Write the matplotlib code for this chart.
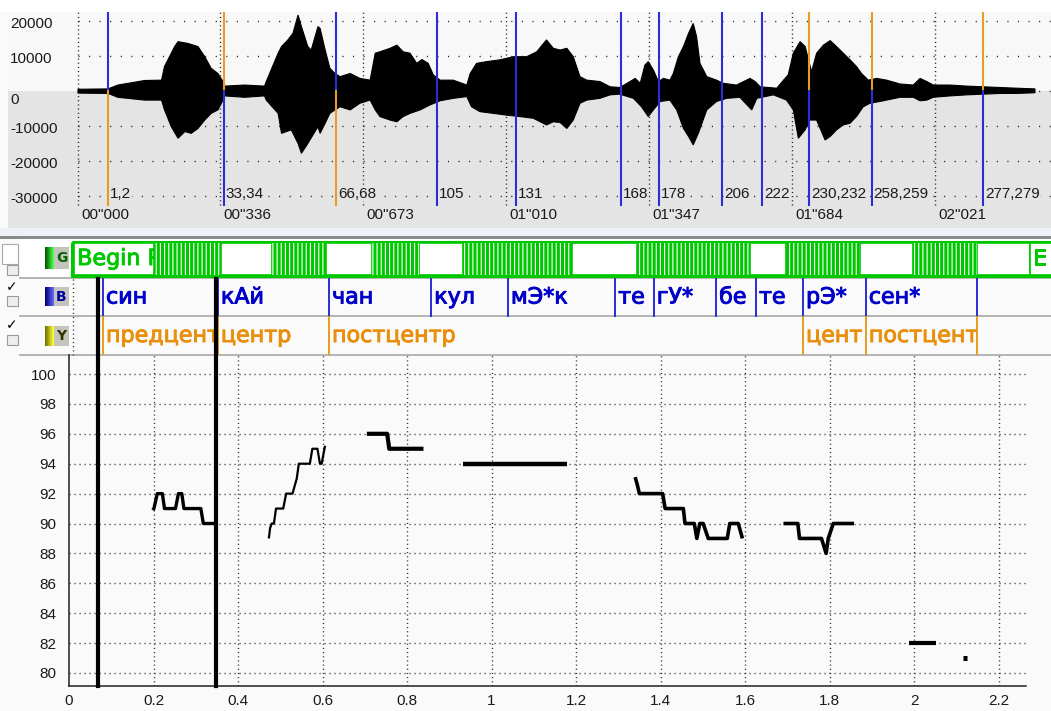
import matplotlib
matplotlib.use("Agg")
import matplotlib.pyplot as plt
import matplotlib.patheffects as pe
import numpy as np
from matplotlib.patches import Rectangle
from matplotlib.transforms import Bbox, TransformedBbox, blended_transform_factory

W, H = 1051, 711

# ---------------- waveform: envelope (seconds, amplitude) ----------------
wave_top = [
    (0.000, 500), (0.071, 600), (0.094, 1700), (0.157, 3000), (0.197, 3100), (0.204, 7000),
    (0.212, 8900), (0.228, 12700), (0.236, 14100), (0.259, 13600), (0.283, 12700), (0.299, 9800),
    (0.314, 6500), (0.330, 5000), (0.342, 2700), (0.346, 1400), (0.393, 1700), (0.440, 1400),
    (0.444, 2700), (0.472, 10800), (0.480, 12700), (0.495, 14600), (0.507, 16500), (0.519, 21700),
    (0.527, 18400), (0.542, 12700), (0.550, 11700), (0.566, 18400), (0.571, 17900), (0.583, 11700),
    (0.594, 6500), (0.606, 5000), (0.618, 4100), (0.642, 5000), (0.665, 3600), (0.689, 3100),
    (0.701, 10800), (0.712, 11200), (0.736, 12200), (0.752, 13100), (0.767, 11200), (0.783, 10800),
    (0.799, 7900), (0.811, 9000), (0.826, 7900), (0.838, 4600), (0.854, 3100), (0.885, 3100),
    (0.917, 1700), (0.925, 5000), (0.940, 7900), (0.964, 8400), (0.995, 8900), (1.027, 9800),
    (1.058, 9800), (1.082, 11200), (1.098, 13600), (1.105, 14600), (1.121, 12200), (1.137, 11700),
    (1.153, 12200), (1.168, 9800), (1.184, 4100), (1.200, 3100), (1.231, 2700), (1.255, 1200),
    (1.278, 1000), (1.302, 2700), (1.314, 3600), (1.326, 2200), (1.337, 7400), (1.345, 8400),
    (1.357, 6000), (1.369, 2700), (1.381, 3600), (1.396, 3100), (1.404, 5000), (1.416, 9800),
    (1.428, 12700), (1.440, 16500), (1.451, 19300), (1.459, 15500), (1.467, 7900), (1.483, 4100),
    (1.506, 3100), (1.522, 2200), (1.553, 1700), (1.585, 3600), (1.597, 2700), (1.609, 1200),
    (1.648, 800), (1.664, 3100), (1.675, 4600), (1.687, 10800), (1.703, 14100), (1.715, 12700),
    (1.723, 8900), (1.730, 5500), (1.742, 10800), (1.758, 13100), (1.774, 14400), (1.789, 12700),
    (1.805, 10800), (1.821, 8900), (1.836, 7000), (1.848, 5000), (1.864, 3100), (1.884, 3600),
    (1.907, 3100), (1.939, 2000), (1.970, 1700), (1.986, 3600), (2.002, 2700), (2.017, 1700),
    (2.057, 1700), (2.096, 1400), (2.135, 1200), (2.174, 1000), (2.214, 800), (2.257, 600),
]
wave_bot = [
    (0.000, -600), (0.071, -700), (0.094, -1800), (0.157, -2600), (0.197, -2600), (0.204, -5400),
    (0.220, -10200), (0.236, -13500), (0.252, -11600), (0.267, -12100), (0.283, -10700), (0.299, -8300),
    (0.314, -6400), (0.330, -5400), (0.342, -2600), (0.346, -1400), (0.393, -1800), (0.440, -1400),
    (0.444, -2600), (0.472, -6400), (0.480, -12100), (0.503, -11100), (0.519, -15000), (0.527, -17800),
    (0.542, -15000), (0.566, -10200), (0.571, -12100), (0.583, -9200), (0.594, -6400), (0.606, -5400),
    (0.618, -4500), (0.642, -5400), (0.665, -3500), (0.689, -2600), (0.701, -5400), (0.712, -7300),
    (0.736, -8300), (0.752, -8800), (0.767, -7300), (0.783, -6400), (0.807, -5400), (0.830, -4000),
    (0.854, -2800), (0.885, -2100), (0.917, -1600), (0.928, -4500), (0.948, -5900), (0.980, -6400),
    (1.011, -6900), (1.042, -7300), (1.074, -7800), (1.105, -9700), (1.121, -8800), (1.137, -9000),
    (1.153, -10700), (1.168, -8300), (1.184, -3500), (1.200, -2600), (1.231, -2100), (1.255, -1100),
    (1.278, -900), (1.310, -2100), (1.329, -4500), (1.345, -7300), (1.357, -5400), (1.373, -3000),
    (1.396, -2600), (1.412, -5400), (1.428, -10700), (1.440, -13000), (1.451, -15400), (1.463, -12100),
    (1.483, -5400), (1.506, -3000), (1.530, -2100), (1.561, -1800), (1.589, -5400), (1.601, -2100),
    (1.640, -1100), (1.671, -2600), (1.687, -5400), (1.699, -13500), (1.715, -11100), (1.726, -8300),
    (1.742, -8300), (1.762, -14000), (1.774, -13000), (1.789, -11100), (1.805, -9700), (1.821, -9200),
    (1.836, -7300), (1.852, -4500), (1.868, -3500), (1.891, -3000), (1.915, -2400), (1.939, -1800),
    (1.970, -1800), (1.986, -2800), (2.002, -2600), (2.017, -1800), (2.057, -1400), (2.096, -1100),
    (2.135, -900), (2.174, -700), (2.214, -700), (2.257, -500),
]

time_ticks = [0.0, 0.336, 0.673, 1.010, 1.347, 1.684, 2.021]
time_labels = ['00"000', '00"336', '00"673', '01"010', '01"347', '01"684', '02"021']
amp_ticks = [20000, 10000, 0, -10000, -20000, -30000]

# segment marks on the waveform
mark_t = [0.071, 0.344, 0.608, 0.846, 1.032, 1.281, 1.371, 1.519, 1.613, 1.724, 1.872, 2.134]
mark_lbl = ['1,2', '33,34', '66,68', '105', '131', '168', '178', '206', '222',
            '230,232', '258,259', '277,279']
mark_up = ['b', 'o', 'b', 'b', 'b', 'b', 'b', 'b', 'b', 'o', 'o', 'o']
mark_dn = ['o', 'b', 'o', 'b', 'b', 'b', 'b', 'b', 'b', 'b', 'b', 'b']

# tiers
g_voiced = [(0.179, 0.337), (0.458, 0.585), (0.693, 0.804), (0.908, 1.165),
            (1.318, 1.585), (1.670, 1.844), (1.969, 2.120)]
g_begin, g_end = -0.009, 2.245
b_bounds = [0.059, 0.330, 0.592, 0.833, 1.014, 1.267, 1.358, 1.505, 1.599, 1.710, 1.858, 2.120]
b_labels = ['син', 'кАй', 'чан', 'кул', 'мЭ*к', 'те', 'гУ*', 'бе', 'те', 'рЭ*', 'сен*']
y_bounds = [0.059, 0.330, 0.592, 1.710, 1.858, 2.120]
y_labels = ['предцент', 'центр', 'постцентр', 'цент', 'постцент']

# ---------------- pitch contour (s, semitones) ----------------
seg1_t = [0.198, 0.201, 0.209, 0.221, 0.226, 0.252, 0.259, 0.267, 0.272, 0.312, 0.318, 0.348]
seg1_f = [90.9, 91.0, 92, 92, 91, 91, 92, 92, 91, 91, 90, 90]
seg2_t = [0.473, 0.476, 0.480, 0.485, 0.490, 0.507, 0.514, 0.529, 0.535, 0.539, 0.544,
          0.570, 0.576, 0.588, 0.594, 0.598, 0.606]
seg2_f = [89.0, 89.7, 90, 90, 91, 91, 92, 92, 92.6, 93, 94, 94, 95, 95, 94, 94, 95.2]
seg3_t = [0.705, 0.753, 0.758, 0.839]
seg3_f = [96, 96, 95, 95]
seg4_t = [0.932, 1.179]
seg4_f = [94, 94]
seg5_t = [1.340, 1.345, 1.350, 1.405, 1.411, 1.454, 1.458, 1.480, 1.486, 1.493, 1.501,
          1.513, 1.558, 1.564, 1.584, 1.594]
seg5_f = [93.1, 92.6, 92, 92, 91, 91, 90, 90, 89, 90, 90, 89, 89, 90, 90, 89]
seg6_t = [1.691, 1.725, 1.729, 1.781, 1.792, 1.797, 1.809, 1.858]
seg6_f = [90, 90, 89, 89, 88, 89, 90, 90]
seg7_t = [1.987, 2.052]
seg7_f = [82, 82]
seg8_t = [2.115, 2.126]
seg8_f = [81, 81]
cursor_t = [0.069, 0.348]

segments = [(seg1_t, seg1_f, 2.4), (seg2_t, seg2_f, 1.6), (seg3_t, seg3_f, 3.0),
            (seg4_t, seg4_f, 3.2), (seg5_t, seg5_f, 2.6), (seg6_t, seg6_f, 2.6),
            (seg7_t, seg7_f, 3.0), (seg8_t, seg8_f, 3.6)]

# ---------------- layout ----------------
BLUE = '#2c2cd8'
ORANGE = '#e89c20'
GREEN = '#00c800'
NUMFONT = dict(family='Liberation Sans', fontsize=11, color='#1a1a1a')
TIERFONT = dict(family='DejaVu Sans', fontsize=16)
plt.rcParams['hatch.linewidth'] = 0.8

fig = plt.figure(figsize=(W / 100, H / 100), dpi=100, facecolor='#fafafa')


def px_axes(x0, y0, x1, y1, z):
    return fig.add_axes([x0 / W, 1 - y1 / H, (x1 - x0) / W, (y1 - y0) / H], zorder=z)


# background chrome in pixel units
bg = px_axes(0, 0, W, H, 0)
bg.set_xlim(0, W)
bg.set_ylim(H, 0)
bg.axis('off')
bg.add_patch(Rectangle((0, 0), W, 12, color='white', lw=0))
bg.add_patch(Rectangle((0, 228), W, 8, color='#eef2f8', lw=0))
bg.add_patch(Rectangle((0, 236), W, 2.5, color='#8a8a8a', lw=0))
bg.add_patch(Rectangle((20, 238.5), W, 39, color='white', lw=0))
for yy in (278, 316, 355):
    bg.plot([20, W], [yy, yy], color='#b4b4b4', lw=1.4)
bg.plot([73, 73], [279, 355], color='#333333', lw=1.0, dashes=(0.8, 2.2))

# ---------------- waveform ----------------
PX_S, T0 = 424.0, 78.0
AMP_PX = 10000 / 35.0
axw = px_axes(8, 12, W, 228, 1)
axw.set_xlim((8 - T0) / PX_S, (W - T0) / PX_S)
a_top, a_bot = (91 - 12) * AMP_PX, (91 - 228) * AMP_PX
axw.set_ylim(a_bot, a_top)
axw.axis('off')
axw.axhspan(0, a_top, color='#f8f8f8', lw=0, zorder=0)
axw.axhspan(a_bot, 0, color='#e4e4e4', lw=0, zorder=0)

x_end = (W - T0) / PX_S
for a in amp_ticks:
    axw.plot([0, x_end], [a, a], color='#222222', lw=1.0, dashes=(0.8, 6.8), zorder=1)
line_bot = (91 - 205) * AMP_PX
for t in time_ticks:
    axw.plot([t, t], [line_bot, a_top], color='#222222', lw=1.0, dashes=(0.8, 2.2), zorder=1)

tt = [p[0] for p in wave_top] + [p[0] for p in wave_bot][::-1]
aa = [p[1] for p in wave_top] + [p[1] for p in wave_bot][::-1]
axw.fill(tt, aa, color='black', lw=0.8, zorder=2)

cmap = {'b': BLUE, 'o': ORANGE}
for t, lbl, up, dn in zip(mark_t, mark_lbl, mark_up, mark_dn):
    axw.plot([t, t], [0, a_top], color=cmap[up], lw=1.5, zorder=3)
    axw.plot([t, t], [line_bot, 0], color=cmap[dn], lw=1.5, zorder=3)
    axw.text(t + 2 / PX_S, (91 - 194) * AMP_PX, lbl, va='center', ha='left', zorder=4,
             bbox=dict(fc='#e4e4e4', ec='none', pad=0.3), **NUMFONT)

trw = blended_transform_factory(axw.transAxes, axw.transData)
for a in amp_ticks:
    off = -2600 if a == 0 else -900
    axw.text(2 / (W - 8), a + off, f'{a}', transform=trw, va='center', ha='left', **NUMFONT)
for t, lbl in zip(time_ticks, time_labels):
    axw.text(t + 3 / PX_S, (91 - 215) * AMP_PX, lbl, va='center', ha='left', **NUMFONT)

# ---------------- tiers ----------------
axt = px_axes(0, 228, W, 355, 2)
axt.set_xlim(-T0 / PX_S, (W - T0) / PX_S)
axt.set_ylim(355, 228)
axt.axis('off')


def clipped_text(x0, x1, y0, y1, txt, color, **kw):
    t = axt.text(x0 + 3 / PX_S, (y0 + y1) / 2, txt, va='center', ha='left', color=color,
                 path_effects=[pe.withStroke(linewidth=0.7, foreground=color)], **kw)
    t.set_clip_box(TransformedBbox(Bbox([[x0, y0], [x1, y1]]), axt.transData))
    t.set_clip_on(True)
    return t


# G tier: voiced stretches striped, the rest white
gy0, gy1 = 243, 275
axt.add_patch(Rectangle((g_begin - 2 / PX_S, gy0 - 1), 3, gy1 - gy0 + 2,
                        fc='none', ec=GREEN, lw=2.2))
starts = [v[1] for v in g_voiced]
ends = [v[0] for v in g_voiced[1:]] + [g_end]
for a0, a1 in zip(starts, ends):
    axt.add_patch(Rectangle((a0, gy0), a1 - a0, gy1 - gy0, fc='white', ec=GREEN, lw=1.2))
for v0, v1 in g_voiced:
    axt.add_patch(Rectangle((v0, gy0), v1 - v0, gy1 - gy0, fc=GREEN, ec='white',
                            hatch='||||', lw=0))
axt.add_patch(Rectangle((g_begin, gy0), g_voiced[0][0] - g_begin, gy1 - gy0,
                        fc='white', ec=GREEN, lw=1.2))
axt.add_patch(Rectangle((g_end, gy0), 1, gy1 - gy0, fc='white', ec=GREEN, lw=1.2))
clipped_text(g_begin, g_voiced[0][0], gy0, gy1, 'Begin P', GREEN, **TIERFONT)
clipped_text(g_end, g_end + 1, gy0, gy1, 'E', GREEN, **TIERFONT)

# B tier (syllables)
for x in b_bounds:
    axt.plot([x, x], [279, 316], color=BLUE, lw=1.4)
for x0, x1, lbl in zip(b_bounds[:-1], b_bounds[1:], b_labels):
    clipped_text(x0, x1, 279, 316, lbl, '#0000c8', **TIERFONT)

# Y tier (accent zones)
for x in y_bounds:
    axt.plot([x, x], [317, 355], color=ORANGE, lw=1.4)
for x0, x1, lbl in zip(y_bounds[:-1], y_bounds[1:], y_labels):
    clipped_text(x0, x1, 317, 355, lbl, '#e8900c', **TIERFONT)

# tier icons and check boxes
fg = px_axes(0, 0, W, H, 5)
fg.axis('off')
icons = [(247, 269, (0.0, 0.35, 0.0), (0.3, 1.0, 0.3), 'G', '#006400'),
         (287, 306, (0.0, 0.0, 0.45), (0.4, 0.4, 1.0), 'B', '#0000a0'),
         (326, 346, (0.45, 0.45, 0.0), (1.0, 1.0, 0.2), 'Y', '#303000')]
for y0, y1, c0, c1, letter, lc in icons:
    grad = np.linspace(0, 1, 10)[None, :, None]
    img = np.array(c0)[None, None, :] * (1 - grad) + np.array(c1)[None, None, :] * grad
    fg.imshow(img, extent=(45, 54, y1, y0), aspect='auto', zorder=2)
    fg.add_patch(Rectangle((54, y0), 15, y1 - y0, fc='#c4c4bc', ec='none', zorder=2))
    fg.text(61.5, (y0 + y1) / 2 + 0.5, letter, ha='center', va='center', color=lc,
            family='DejaVu Sans', fontsize=10, fontweight='bold', zorder=3)
fg.set_xlim(0, W)
fg.set_ylim(H, 0)
fg.add_patch(Rectangle((2, 244), 16, 20, fc='white', ec='#a8a8a8', lw=0.8))
for y0 in (265, 296, 335):
    fg.add_patch(Rectangle((7, y0), 11, 10, fc='#eeeeee', ec='#9a9a9a', lw=0.8))
for yc in (287, 325):
    fg.text(12, yc, '✓', ha='center', va='center', fontsize=10, color='black',
            family='DejaVu Sans', fontweight='bold')

# ---------------- pitch chart ----------------
P_X0, P_S = 69.0, 422.5
axp = px_axes(69, 355, 1026, 686, 3)
axp.set_facecolor('none')
p_lo = 80 - (686 - 673) / 14.95
p_hi = 100 + (374 - 355) / 14.95
axp.set_xlim(0, (1026 - P_X0) / P_S)
axp.set_ylim(p_lo, p_hi)
for s in ('top', 'right'):
    axp.spines[s].set_visible(False)
for s in ('left', 'bottom'):
    axp.spines[s].set_color('#202020')
    axp.spines[s].set_linewidth(1.1)

xt = np.round(np.arange(0, 2.21, 0.2), 1)
yt = np.arange(80, 101, 2)
axp.set_xticks(xt)
axp.set_xticklabels([f'{v:g}' for v in xt])
axp.set_yticks(yt)
axp.set_yticklabels([f'{v}' for v in yt])
axp.tick_params(length=0, labelsize=11, labelcolor='#1a1a1a')
axp.tick_params(axis='x', pad=6)
axp.tick_params(axis='y', pad=9)
for lab in axp.get_xticklabels() + axp.get_yticklabels():
    lab.set_family('Liberation Sans')

for v in yt:
    axp.plot([0, axp.get_xlim()[1]], [v, v], color='#303030', lw=1.0, dashes=(0.8, 2.8), zorder=1)
for v in xt[1:]:
    axp.plot([v, v], [p_lo, p_hi], color='#303030', lw=1.0, dashes=(0.8, 2.2), zorder=1)

for st, sf, lw in segments:
    axp.plot(st, sf, color='black', lw=lw, solid_capstyle='butt', zorder=3)

cur_top = 100 + (374 - 279) / 14.95
for t in cursor_t:
    axp.plot([t, t], [p_lo, cur_top], color='black', lw=3.0, clip_on=False, zorder=4)

fig.savefig('out.png', dpi=100, facecolor=fig.get_facecolor())
